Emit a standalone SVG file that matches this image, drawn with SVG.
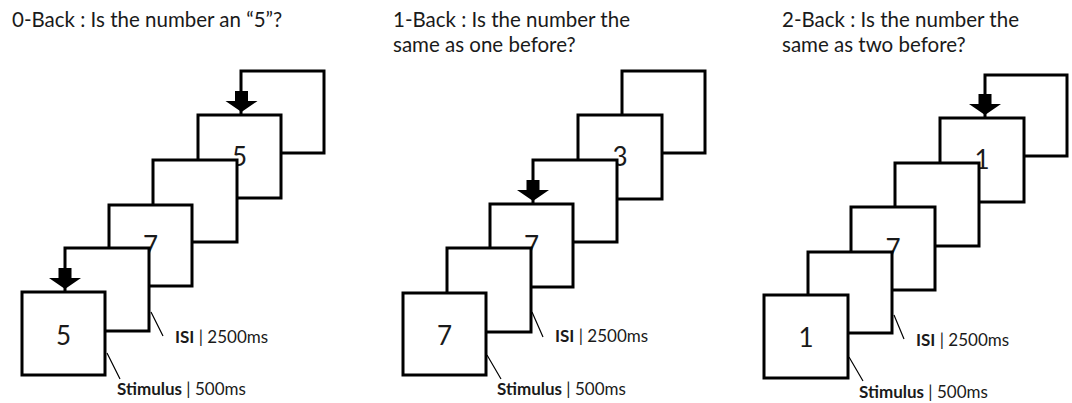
<svg xmlns="http://www.w3.org/2000/svg" xmlns:xlink="http://www.w3.org/1999/xlink" width="1072" height="403" viewBox="0 0 1072 403">
<style>
.sq{fill:#fff;stroke:#000;stroke-width:3}
.num{font-family:Lato,"Open Sans","Liberation Sans",sans-serif;font-size:26px;fill:#1a1a1a;text-anchor:middle}
.title{font-family:Lato,"Open Sans","Liberation Sans",sans-serif;font-size:20.5px;fill:#1a1a1a}
.lab{font-family:Lato,"Open Sans","Liberation Sans",sans-serif;font-size:17px;fill:#1a1a1a}
.lab tspan.b{font-weight:bold}
.lead{stroke:#000;stroke-width:1.2;fill:none}
.arr{fill:#000}
</style>
<defs>
<path id="arrow" d="M-6.5,-21 H6.5 V-11 H16 L0,0 L-16,-11 H-6.5 Z"/>
</defs>
<rect width="1072" height="403" fill="#fff"/>

<g id="titles">
<text class="title" x="12" y="27">0-Back : Is the number an “5”?</text>
<text class="title" x="393" y="27">1-Back : Is the number the</text>
<text class="title" x="393" y="52">same as one before?</text>
<text class="title" x="782" y="27">2-Back : Is the number the</text>
<text class="title" x="782" y="52">same as two before?</text>
</g>

<!-- Panel 1 -->
<g id="p1-F"><rect class="sq" x="241" y="71" width="83" height="82"/></g>
<g id="p1-E"><rect class="sq" x="198" y="115" width="83" height="83"/><text class="num" x="239.5" y="166">5</text></g>
<g id="p1-D"><rect class="sq" x="153" y="160" width="84" height="82"/></g>
<g id="p1-C"><rect class="sq" x="109" y="205" width="83" height="81"/><text class="num" x="150.5" y="255">7</text></g>
<g id="p1-B"><rect class="sq" x="65" y="248" width="84" height="83"/></g>
<g id="p1-A"><rect class="sq" x="22" y="292" width="83" height="83"/><text class="num" x="63.5" y="345">5</text></g>

<!-- Panel 2 -->
<g id="p2-F"><rect class="sq" x="622" y="71" width="83" height="82"/></g>
<g id="p2-E"><rect class="sq" x="578" y="115" width="84" height="84"/><text class="num" x="620" y="166">3</text></g>
<g id="p2-D"><rect class="sq" x="533" y="160" width="84" height="82"/></g>
<g id="p2-C"><rect class="sq" x="490" y="204" width="83" height="83"/><text class="num" x="531.5" y="255">7</text></g>
<g id="p2-B"><rect class="sq" x="447" y="248" width="84" height="84"/></g>
<g id="p2-A"><rect class="sq" x="403" y="293" width="83" height="82"/><text class="num" x="444.5" y="345">7</text></g>

<!-- Panel 3 -->
<g id="p3-F"><rect class="sq" x="985" y="75" width="82" height="81"/></g>
<g id="p3-E"><rect class="sq" x="940" y="118" width="84" height="84"/><text class="num" x="982" y="169">1</text></g>
<g id="p3-D"><rect class="sq" x="895" y="163" width="84" height="83"/></g>
<g id="p3-C"><rect class="sq" x="851" y="207" width="84" height="83"/><text class="num" x="893" y="258">7</text></g>
<g id="p3-B"><rect class="sq" x="808" y="252" width="84" height="81"/></g>
<g id="p3-A"><rect class="sq" x="764" y="295" width="84" height="83"/><text class="num" x="806" y="347">1</text></g>

<g id="connectors">
<use xlink:href="#arrow" href="#arrow" class="arr" x="241.5" y="112"/>
<use xlink:href="#arrow" href="#arrow" class="arr" x="65" y="289"/>
<use xlink:href="#arrow" href="#arrow" class="arr" x="533" y="201"/>
<use xlink:href="#arrow" href="#arrow" class="arr" x="985" y="115"/>
<path class="lead" d="M151,312 L163,336 M107,353 L120,379"/>
<path class="lead" d="M532,312 L543,337 M487,355 L501,379"/>
<path class="lead" d="M894,315 L904,339 M849,357 L863,381"/>
</g>

<g id="labels">
<text class="lab" x="175" y="343"><tspan class="b">ISI</tspan> | 2500ms</text>
<text class="lab" x="117" y="395"><tspan class="b">Stimulus</tspan> | 500ms</text>
<text class="lab" x="555" y="342"><tspan class="b">ISI</tspan> | 2500ms</text>
<text class="lab" x="497" y="395"><tspan class="b">Stimulus</tspan> | 500ms</text>
<text class="lab" x="916" y="346"><tspan class="b">ISI</tspan> | 2500ms</text>
<text class="lab" x="859" y="398"><tspan class="b">Stimulus</tspan> | 500ms</text>
</g>
</svg>
